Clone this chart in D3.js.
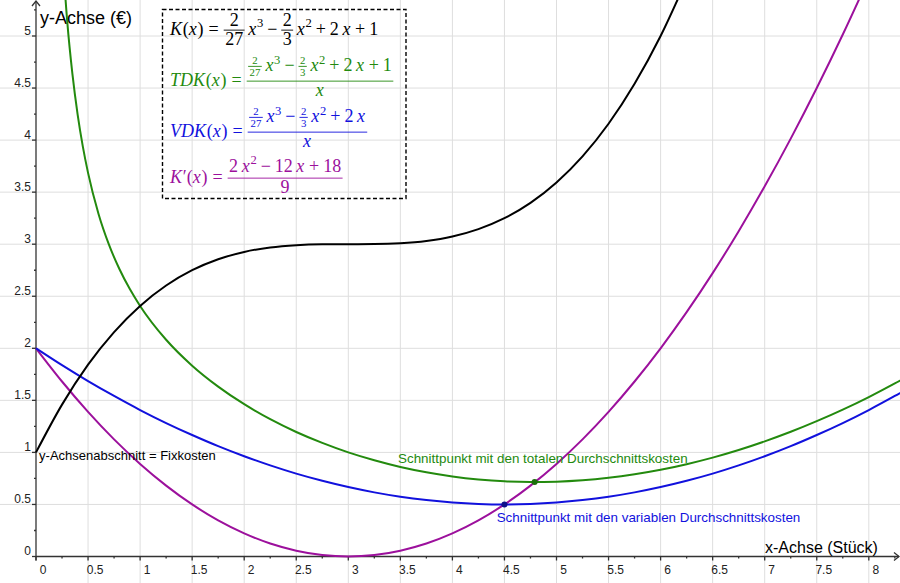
<!DOCTYPE html>
<html lang="de">
<head>
<meta charset="UTF-8">
<title>Kostenfunktionen</title>
<script src="https://d3js.org/d3.v7.min.js"></script>
<style>
  body { margin: 0; background: #fff; }
  svg { display: block; font-family: 'Liberation Sans', Arial, sans-serif; }
  .grid line { stroke: #dedede; stroke-width: 1; }
  .tick-label { font-size: 12px; fill: #222; }
  .math text { font-family: 'Liberation Serif', 'Times New Roman', serif; }
</style>
</head>
<body>
<svg width="900" height="583"></svg>
<script>
  const width = 900, height = 583;

  // x values used for the sampled curves
  const xGrid = [0, 0.25, 0.5, 0.75, 1, 1.25, 1.5, 1.75, 2, 2.25, 2.5, 2.75, 3, 3.25, 3.5, 3.75,
    4, 4.25, 4.5, 4.75, 5, 5.25, 5.5, 5.75, 6, 6.25, 6.5, 6.75, 7, 7.25, 7.5, 7.75, 8, 8.25, 8.5];

  // K(x) – Gesamtkosten (black)
  const yK = [1, 1.459, 1.843, 2.156, 2.407, 2.603, 2.75, 2.855, 2.926, 2.969, 2.991, 2.999, 3,
    3.001, 3.009, 3.031, 3.074, 3.145, 3.25, 3.397, 3.593, 3.844, 4.157, 4.541, 5.0, 5.543];

  // K'(x) – Grenzkosten (purple)
  const yKp = [2, 1.681, 1.389, 1.125, 0.889, 0.681, 0.5, 0.347, 0.222, 0.125, 0.056, 0.014, 0,
    0.014, 0.056, 0.125, 0.222, 0.347, 0.5, 0.681, 0.889, 1.125, 1.389, 1.681, 2, 2.347, 2.722,
    3.125, 3.556, 4.014, 4.5, 5.014, 5.556];

  // VDK(x) – variable Durchschnittskosten (blue)
  const yVDK = [2, 1.838, 1.685, 1.542, 1.407, 1.282, 1.167, 1.060, 0.963, 0.875, 0.796, 0.727,
    0.667, 0.616, 0.574, 0.542, 0.519, 0.505, 0.5, 0.505, 0.519, 0.542, 0.574, 0.616, 0.667,
    0.727, 0.796, 0.875, 0.963, 1.060, 1.167, 1.282, 1.407, 1.542, 1.685];

  // TDK(x) – totale Durchschnittskosten (green), denser near the pole
  const xTDK = [0.25, 0.3, 0.35, 0.4, 0.45, 0.5, 0.6, 0.7, 0.8, 0.9, 1, 1.25, 1.5, 1.75, 2, 2.25,
    2.5, 2.75, 3, 3.25, 3.5, 3.75, 4, 4.25, 4.5, 4.75, 5, 5.25, 5.5, 5.75, 6, 6.25, 6.5, 6.75, 7,
    7.25, 7.5, 7.75, 8, 8.25, 8.5];
  const yTDK = [5.838, 5.14, 4.633, 4.245, 3.937, 3.685, 3.293, 2.998, 2.764, 2.571, 2.407, 2.082,
    1.833, 1.632, 1.463, 1.319, 1.196, 1.091, 1.0, 0.924, 0.860, 0.809, 0.769, 0.740, 0.722,
    0.716, 0.719, 0.732, 0.756, 0.790, 0.833, 0.887, 0.950, 1.023, 1.106, 1.198, 1.300, 1.411,
    1.532, 1.663, 1.803];

  // Schnittpunkte
  const cutX = [4.79, 4.5];
  const cutY = [0.715, 0.5];

  const xTicks = [0, 0.5, 1, 1.5, 2, 2.5, 3, 3.5, 4, 4.5, 5, 5.5, 6, 6.5, 7, 7.5, 8];
  const yTicks = [0, 0.5, 1, 1.5, 2, 2.5, 3, 3.5, 4, 4.5, 5];
  const xMinor = [0.25, 0.75, 1.25, 1.75, 2.25, 2.75, 3.25, 3.75, 4.25, 4.75, 5.25, 5.75, 6.25, 6.75, 7.25, 7.75, 8.25];
  const yMinor = [0.25, 0.75, 1.25, 1.75, 2.25, 2.75, 3.25, 3.75, 4.25, 4.75, 5.25];

  const cBlack = "#000000", cGreen = "#238a0e", cBlue = "#1111dd", cPurple = "#9c109c";

  const svg = d3.select("svg");
  const x = d3.scaleLinear().domain([0, 8]).range([36, 868.8]);
  const y = d3.scaleLinear().domain([0, 5]).range([556.5, 36]);

  // Gitter
  const grid = svg.append("g").attr("class", "grid");
  grid.selectAll(".gx").data(xTicks.filter(d => d > 0)).enter().append("line")
    .attr("x1", d => x(d)).attr("x2", d => x(d)).attr("y1", 0).attr("y2", height);
  grid.selectAll(".gy").data(yTicks.filter(d => d > 0)).enter().append("line")
    .attr("x1", 0).attr("x2", width).attr("y1", d => y(d)).attr("y2", d => y(d));

  // Achsen
  const axis = svg.append("g").attr("stroke", "#333").attr("stroke-width", 1.3).attr("fill", "none");
  axis.append("line").attr("x1", x(0)).attr("x2", width - 1).attr("y1", y(0)).attr("y2", y(0));
  axis.append("line").attr("x1", x(0)).attr("x2", x(0)).attr("y1", y(0) + 4).attr("y2", 1);
  axis.append("path").attr("d", `M${width - 6},${y(0) - 4}L${width - 1},${y(0)}L${width - 6},${y(0) + 4}`);
  axis.append("path").attr("d", `M${x(0) - 4},6L${x(0)},1L${x(0) + 4},6`);
  axis.selectAll(".tx").data(xTicks).enter().append("line")
    .attr("x1", d => x(d)).attr("x2", d => x(d)).attr("y1", y(0)).attr("y2", y(0) + 4);
  axis.selectAll(".mx").data(xMinor).enter().append("line")
    .attr("x1", d => x(d)).attr("x2", d => x(d)).attr("y1", y(0)).attr("y2", y(0) + 2);
  axis.selectAll(".ty").data(yTicks).enter().append("line")
    .attr("x1", x(0) - 4).attr("x2", x(0)).attr("y1", d => y(d)).attr("y2", d => y(d));
  axis.selectAll(".my").data(yMinor).enter().append("line")
    .attr("x1", x(0) - 2).attr("x2", x(0)).attr("y1", d => y(d)).attr("y2", d => y(d));

  const fmt = d => String(d);
  svg.selectAll(".xl").data(xTicks).enter().append("text")
    .attr("class", "tick-label").attr("text-anchor", "middle")
    .attr("x", d => x(d) + 7).attr("y", y(0) + 17).text(fmt);
  svg.selectAll(".yl").data(yTicks).enter().append("text")
    .attr("class", "tick-label").attr("text-anchor", "end")
    .attr("x", x(0) - 5).attr("y", d => y(d) - 1.5).text(fmt);

  svg.append("text").attr("x", 40).attr("y", 24).attr("font-size", 18).attr("fill", "#000").text("y-Achse (€)");
  svg.append("text").attr("x", 765).attr("y", 553).attr("font-size", 16).attr("fill", "#000").text("x-Achse (Stück)");

  // Kurven
  const line = (xs, ys) => d3.line().curve(d3.curveMonotoneX)
    .x((d, i) => x(xs[i])).y(d => y(d))(ys);
  const curves = svg.append("g").attr("fill", "none").attr("stroke-width", 2);
  curves.append("path").attr("stroke", cPurple).attr("d", line(xGrid, yKp));
  curves.append("path").attr("stroke", cBlue).attr("d", line(xGrid, yVDK));
  curves.append("path").attr("stroke", cGreen).attr("d", line(xTDK, yTDK));
  curves.append("path").attr("stroke", cBlack).attr("d", line(xGrid, yK));

  // Punkte
  svg.selectAll(".cut").data(cutX).enter().append("circle")
    .attr("cx", d => x(d)).attr("cy", (d, i) => y(cutY[i])).attr("r", 3)
    .attr("fill", (d, i) => i === 0 ? "#1d6f0c" : "#10108a");

  // Beschriftungen
  svg.append("text").attr("x", x(3.478)).attr("y", y(0.895)).attr("font-size", 13.4).attr("fill", cGreen)
    .text("Schnittpunkt mit den totalen Durchschnittskosten");
  svg.append("text").attr("x", x(4.425)).attr("y", y(0.334)).attr("font-size", 13.4).attr("fill", cBlue)
    .text("Schnittpunkt mit den variablen Durchschnittskosten");
  svg.append("text").attr("x", x(0.03)).attr("y", y(0.927)).attr("font-size", 13).attr("fill", "#000")
    .text("y-Achsenabschnitt = Fixkosten");

  // Formel-Kasten
  svg.append("rect").attr("x", 162.5).attr("y", 9.5).attr("width", 243.5).attr("height", 189)
    .attr("fill", "none").attr("stroke", "#000").attr("stroke-width", 1.4).attr("stroke-dasharray", "4,2.5");

  const I = s => ({ t: s, st: "i" }), N = s => ({ t: s, st: "n" }), P = s => ({ t: s, st: "sup" });
  const S = em => ({ sp: em });
  const F = (n, d, o) => Object.assign({ f: true, n, d, s: 1, up: 0.22, dn: 0.85 }, o || {});
  const bin = op => [S(0.22), N(op), S(0.22)];

  function place(g, items, x0, base, size, color) {
    let cx = x0;
    items.forEach(it => {
      if (it.sp !== undefined) { cx += it.sp * size; return; }
      if (!it.f) {
        const sup = it.st === "sup";
        const fs = sup ? size * 0.7 : size;
        const t = g.append("text").attr("x", cx).attr("y", sup ? base - size * 0.42 : base)
          .attr("font-size", fs).attr("font-style", it.st === "i" ? "italic" : "normal")
          .attr("fill", color).text(it.t);
        cx += t.node().getComputedTextLength() + (it.st === "i" ? fs * 0.04 : 0);
        return;
      }
      const fs = size * it.s;
      const gn = g.append("g"), gd = g.append("g");
      const wn = place(gn, it.n, 0, 0, fs, color);
      const wd = place(gd, it.d, 0, 0, fs, color);
      const pad = size * 0.08;
      const w = Math.max(wn, wd) + 2 * pad;
      const ax = base - size * 0.27;
      gn.attr("transform", `translate(${cx + (w - wn) / 2},${ax - it.up * fs})`);
      gd.attr("transform", `translate(${cx + (w - wd) / 2},${ax + it.dn * fs})`);
      g.append("line").attr("x1", cx).attr("x2", cx + w).attr("y1", ax).attr("y2", ax)
        .attr("stroke", color).attr("stroke-width", 0.9);
      cx += w;
    });
    return cx - x0;
  }

  const small27 = F([N("2")], [N("27")], { s: 0.6, up: 0.2, dn: 0.85 });
  const small3 = F([N("2")], [N("3")], { s: 0.6, up: 0.2, dn: 0.85 });
  const polyTop = [small27, S(0.2), I("x"), P("3"), ...bin("−"), small3, S(0.2), I("x"), P("2"),
    ...bin("+"), N("2"), S(0.2), I("x")];

  const rows = [
    { color: cBlack, base: 35, items: [I("K"), N("("), I("x"), N(")"), S(0.28), N("="), S(0.28),
      F([N("2")], [N("27")]), S(0.2), I("x"), P("3"), ...bin("−"), F([N("2")], [N("3")]), S(0.2),
      I("x"), P("2"), ...bin("+"), N("2"), S(0.2), I("x"), ...bin("+"), N("1")] },
    { color: cGreen, base: 86, items: [I("TDK"), N("("), I("x"), N(")"), S(0.28), N("="), S(0.28),
      F([...polyTop, ...bin("+"), N("1")], [I("x")], { up: 0.55, dn: 0.85 })] },
    { color: cBlue, base: 137, items: [I("VDK"), N("("), I("x"), N(")"), S(0.28), N("="), S(0.28),
      F(polyTop, [I("x")], { up: 0.55, dn: 0.85 })] },
    { color: cPurple, base: 183, items: [I("K"), N("′"), N("("), I("x"), N(")"), S(0.28), N("="), S(0.28),
      F([N("2"), S(0.2), I("x"), P("2"), ...bin("−"), N("12"), S(0.2), I("x"), ...bin("+"), N("18")],
        [N("9")], { up: 0.35, dn: 0.85 })] }
  ];
  const math = svg.append("g").attr("class", "math");
  rows.forEach(r => place(math.append("g"), r.items, 170, r.base, 18, r.color));
</script>
</body>
</html>
